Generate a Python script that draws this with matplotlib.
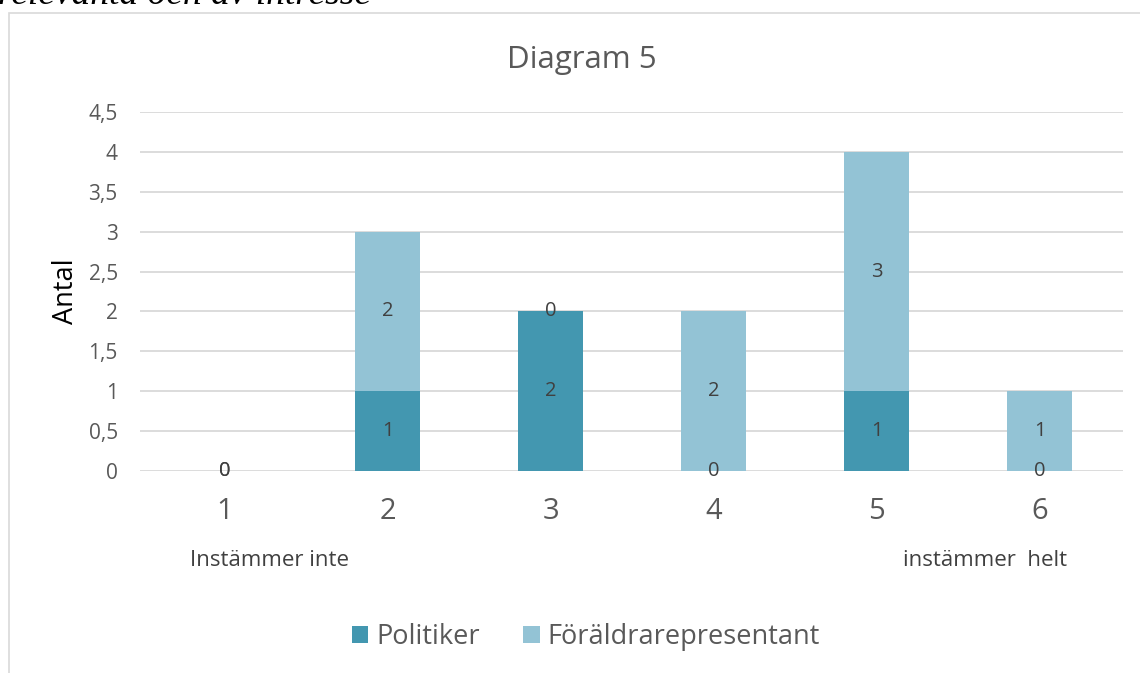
import matplotlib
matplotlib.use("Agg")
import matplotlib.pyplot as plt
from matplotlib.patches import Rectangle
import numpy as np

# Data
categories = ["1", "2", "3", "4", "5", "6"]
politiker = [0, 1, 2, 0, 1, 0]
foralder = [0, 2, 0, 2, 3, 1]
yticks = [0, 0.5, 1, 1.5, 2, 2.5, 3, 3.5, 4, 4.5]
ytick_labels = ["0", "0,5", "1", "1,5", "2", "2,5", "3", "3,5", "4", "4,5"]

C_POL = "#4397b0"
C_FOR = "#93c3d5"
TXT = "#595959"
FONT = "Open Sans"

W, H = 1140, 673
fig = plt.figure(figsize=(W / 100, H / 100), dpi=100)
plt.rcParams["font.family"] = [FONT, "DejaVu Sans"]

# chart frame
fig.patches.append(Rectangle((9 / W, -0.05), 1.2, 1 - 13 / H + 0.05, transform=fig.transFigure,
                             fill=False, edgecolor="#d9d9d9", linewidth=1.2))

# cropped heading above the chart
fig.text(-2 / W, 1 - 4 / H, "relevanta och av intresse", family="Liberation Serif",
         style="italic", fontsize=27, va="baseline", ha="left", color="black")

ax = fig.add_axes([140 / W, 1 - 471 / H, (1123 - 140) / W, (471 - 112) / H])
x = np.arange(len(categories))
bw = 0.4
ax.bar(x, politiker, bw, color=C_POL, label="Politiker", zorder=3)
ax.bar(x, foralder, bw, bottom=politiker, color=C_FOR, label="Föräldrarepresentant", zorder=3)

for i in range(len(categories)):
    p, f = politiker[i], foralder[i]
    ax.text(x[i], p / 2, str(p), ha="center", va="center", fontsize=14.5, color="#404040", zorder=4)
    ax.text(x[i], p + f / 2, str(f), ha="center", va="center", fontsize=14.5, color="#404040", zorder=4)

ax.set_xlim(-0.52, 5.51)
ax.set_ylim(0, 4.5)
ax.set_yticks(yticks)
ax.set_yticklabels(ytick_labels)
ax.set_xticks(x)
ax.set_xticklabels(categories)
ax.yaxis.grid(True, color="#d9d9d9", linewidth=1.3, zorder=0)
ax.set_axisbelow(True)
for s in ax.spines.values():
    s.set_visible(False)
ax.tick_params(axis="y", length=0, pad=16, labelsize=15, labelcolor=TXT)
ax.tick_params(axis="x", length=0, pad=19, labelsize=21, labelcolor=TXT)
ax.set_ylabel("Antal", fontsize=19.5, color="black", labelpad=6)

fig.text(582 / W, 1 - 60 / H, "Diagram 5", ha="center", va="center", fontsize=22.5, color=TXT)
fig.text(190 / W, 1 - 561 / H, "Instämmer inte", ha="left", va="center", fontsize=16, color="#404040")
fig.text(903 / W, 1 - 561 / H, "instämmer  helt", ha="left", va="center", fontsize=16, color="#404040")

fig.legend(loc="center", bbox_to_anchor=(586 / W, 1 - 637 / H), ncol=2, frameon=False,
           fontsize=19.5, labelcolor=TXT, handlelength=0.6, handleheight=0.6,
           handletextpad=0.3, columnspacing=1.6)

fig.savefig("out.png", dpi=100)
